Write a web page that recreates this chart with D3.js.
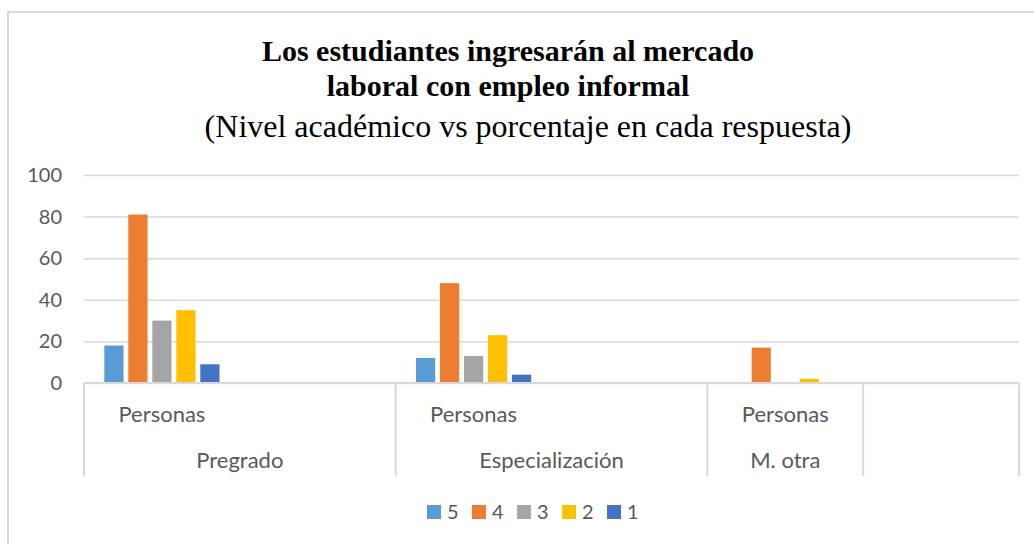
<!DOCTYPE html>
<html>
<head>
<meta charset="utf-8">
<script src="https://cdn.jsdelivr.net/npm/d3@7"></script>
<style>
  body { margin: 0; background: #fff; }
  svg { display: block; }
</style>
</head>
<body>
<div id="chart"></div>
<script>
// data
const slotLabels = ["Personas", "", "Personas", "", "Personas", ""];
const slotGroups = ["Pregrado", "Pregrado", "Especialización", "Especialización", "M. otra", ""];
const seriesNames = ["5", "4", "3", "2", "1"];
const values5 = [18, null, 12, null, 0, null];
const values4 = [81, null, 48, null, 17, null];
const values3 = [30, null, 13, null, 0, null];
const values2 = [35, null, 23, null, 2, null];
const values1 = [9, null, 4, null, 0, null];
const yTicks = [0, 20, 40, 60, 80, 100];
const colors = ["#5b9bd5", "#ed7d31", "#a5a5a5", "#ffc000", "#4472c4"];

const W = 1034, H = 544;
const sans = "Lato, 'Open Sans', sans-serif";
const serif = "'Liberation Serif', 'Times New Roman', serif";
const gridColor = "#d9d9d9";
const textColor = "#595959";

const svg = d3.select("#chart").append("svg")
    .attr("width", W)
    .attr("height", H);

// chart border (only top and left edges show inside the picture)
svg.append("rect")
    .attr("x", 8).attr("y", 12)
    .attr("width", W + 20).attr("height", H + 20)
    .attr("fill", "#fff")
    .attr("stroke", gridColor)
    .attr("stroke-width", 2);

// titles
const title = svg.append("g").attr("font-family", serif).attr("fill", "#000");
title.append("text").attr("x", 508).attr("y", 61)
    .attr("text-anchor", "middle").attr("font-weight", "bold").attr("font-size", 30)
    .text("Los estudiantes ingresarán al mercado");
title.append("text").attr("x", 508).attr("y", 96)
    .attr("text-anchor", "middle").attr("font-weight", "bold").attr("font-size", 30)
    .text("laboral con empleo informal");
title.append("text").attr("x", 528).attr("y", 137)
    .attr("text-anchor", "middle").attr("font-size", 32)
    .text("(Nivel académico vs porcentaje en cada respuesta)");

// scales
const plotLeft = 84, plotRight = 1019, plotTop = 175, plotBottom = 383;
const x0 = d3.scaleBand().domain(d3.range(slotLabels.length)).range([plotLeft, plotRight]);
const x1 = d3.scaleBand().domain(seriesNames).range([0, 120]).paddingInner(0.2).paddingOuter(0.1);
const y = d3.scaleLinear().domain([0, 100]).range([plotBottom, plotTop]);

// gridlines + y labels
const yAxis = svg.append("g")
    .attr("transform", `translate(${plotLeft},0)`)
    .call(d3.axisLeft(y).tickValues(yTicks).tickSize(-(plotRight - plotLeft)).tickPadding(22));
yAxis.select(".domain").remove();
yAxis.selectAll(".tick line").attr("stroke", gridColor).attr("stroke-width", 1.5);
yAxis.selectAll(".tick text")
    .attr("font-family", sans).attr("font-size", 20).attr("fill", textColor);

// bars
const allValues = [values5, values4, values3, values2, values1];
const series = seriesNames.map((name, i) => ({name, color: colors[i], values: allValues[i]}));

svg.append("g").selectAll("g")
    .data(series)
    .join("g")
    .attr("fill", d => d.color)
    .selectAll("rect")
    .data(d => d.values.map((v, i) => ({name: d.name, v, i})).filter(d => d.v != null))
    .join("rect")
    .attr("x", d => x0(d.i) + x0.bandwidth() / 2 - 60 + x1(d.name))
    .attr("width", x1.bandwidth())
    .attr("y", d => y(d.v))
    .attr("height", d => y(0) - y(d.v));

// category axis (two levels)
const catAxis = svg.append("g");
catAxis.append("line")
    .attr("x1", plotLeft).attr("x2", plotRight)
    .attr("y1", plotBottom).attr("y2", plotBottom)
    .attr("stroke", gridColor).attr("stroke-width", 2);

const bounds = [0];
for (let i = 1; i < slotGroups.length; i++) {
    if (slotGroups[i] !== slotGroups[i - 1]) bounds.push(i);
}
bounds.push(slotGroups.length);

catAxis.selectAll(".divider")
    .data(bounds)
    .join("line")
    .attr("class", "divider")
    .attr("x1", d => d < slotGroups.length ? x0(d) : plotRight)
    .attr("x2", d => d < slotGroups.length ? x0(d) : plotRight)
    .attr("y1", plotBottom).attr("y2", 476)
    .attr("stroke", gridColor).attr("stroke-width", 2);

catAxis.selectAll(".inner")
    .data(slotLabels)
    .join("text")
    .attr("class", "inner")
    .attr("x", (d, i) => x0(i) + x0.bandwidth() / 2)
    .attr("y", 422)
    .attr("text-anchor", "middle")
    .attr("font-family", sans).attr("font-size", 22).attr("fill", textColor)
    .text(d => d);

const groupSpans = bounds.slice(0, -1).map((b, k) => ({
    name: slotGroups[b],
    x: (x0(b) + (bounds[k + 1] < slotGroups.length ? x0(bounds[k + 1]) : plotRight)) / 2
}));
catAxis.selectAll(".outer")
    .data(groupSpans)
    .join("text")
    .attr("class", "outer")
    .attr("x", d => d.x)
    .attr("y", 468)
    .attr("text-anchor", "middle")
    .attr("font-family", sans).attr("font-size", 22).attr("fill", textColor)
    .text(d => d.name);

// legend
const legend = svg.append("g").attr("transform", "translate(427,505)");
const item = legend.selectAll("g")
    .data(series)
    .join("g")
    .attr("transform", (d, i) => `translate(${i * 45},0)`);
item.append("rect").attr("width", 14).attr("height", 14).attr("fill", d => d.color);
item.append("text")
    .attr("x", 20).attr("y", 14)
    .attr("font-family", sans).attr("font-size", 20).attr("fill", textColor)
    .text(d => d.name);
</script>
</body>
</html>
